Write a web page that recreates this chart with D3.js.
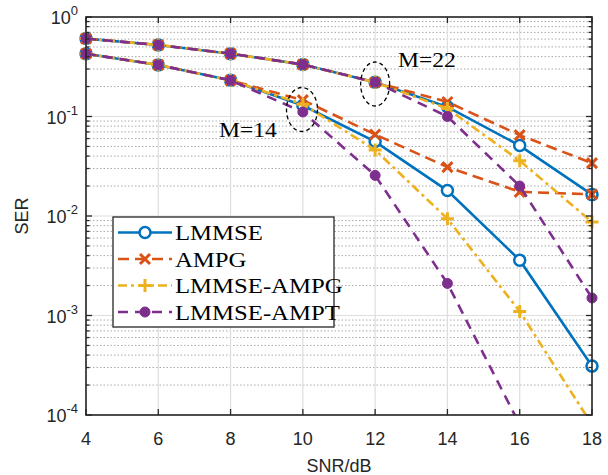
<!DOCTYPE html>
<html><head><meta charset="utf-8">
<script src="https://cdn.jsdelivr.net/npm/d3@7"></script>
<style>html,body{margin:0;padding:0;background:#fff;}svg{display:block;}</style>
</head><body>
<svg id="chart" width="608" height="475"></svg>
<script>
const snr = [4, 6, 8, 10, 12, 14, 16, 18];
const xTicks = [4, 6, 8, 10, 12, 14, 16, 18];
const yTickExps = [0, -1, -2, -3, -4];
const seriesNames = ["LMMSE", "AMPG", "LMMSE-AMPG", "LMMSE-AMPT"];
// M = 22 (upper group)
const lmmse22      = [0.607, 0.523, 0.428, 0.333, 0.221, 0.125, 0.051, 0.0164];
const ampg22       = [0.607, 0.523, 0.428, 0.333, 0.221, 0.140, 0.065, 0.034];
const lmmseAmpg22  = [0.607, 0.523, 0.428, 0.333, 0.221, 0.120, 0.036, 0.0087];
const lmmseAmpt22  = [0.607, 0.523, 0.428, 0.333, 0.221, 0.100, 0.020, 0.0015];
// M = 14 (lower group)
const lmmse14      = [0.427, 0.330, 0.231, 0.129, 0.056, 0.018, 0.0036, 0.00031];
const ampg14       = [0.427, 0.330, 0.231, 0.146, 0.066, 0.031, 0.0175, 0.0165];
const lmmseAmpg14  = [0.427, 0.330, 0.231, 0.133, 0.046, 0.0094, 0.0011, 0.00008];
const lmmseAmpt14  = [0.427, 0.330, 0.231, 0.111, 0.0256, 0.0021, 0.00008, 0.000003];

const styles = {
  "LMMSE":      {color: "#0072BD", dash: null,          marker: "o"},
  "AMPG":       {color: "#D95319", dash: "11,6",        marker: "x"},
  "LMMSE-AMPG": {color: "#EDB120", dash: "9,4,3,4",     marker: "+"},
  "LMMSE-AMPT": {color: "#7E2F8E", dash: "10,7",        marker: "dot"}
};
const groups = [
  {name: "LMMSE", data: [lmmse22, lmmse14]},
  {name: "AMPG", data: [ampg22, ampg14]},
  {name: "LMMSE-AMPG", data: [lmmseAmpg22, lmmseAmpg14]},
  {name: "LMMSE-AMPT", data: [lmmseAmpt22, lmmseAmpt14]}
];

const L = 86, R = 592, T = 17, B = 415;
const svg = d3.select("#chart");
const x = d3.scaleLinear().domain([4, 18]).range([L, R]);
const y = d3.scaleLog().domain([1e-4, 1]).range([B, T]);
const axisCol = "#262626";

// grid
const g = svg.append("g");
const minors = [];
for (let e = -4; e < 0; e++) for (let k = 2; k <= 9; k++) minors.push(k * Math.pow(10, e));
g.selectAll(".mg").data(minors).enter().append("line")
  .attr("x1", L).attr("x2", R).attr("y1", d => y(d)).attr("y2", d => y(d))
  .attr("stroke", "#aaaaaa").attr("stroke-width", 1).attr("stroke-dasharray", "1.5,2");
g.selectAll(".gy").data(yTickExps).enter().append("line")
  .attr("x1", L).attr("x2", R).attr("y1", d => y(Math.pow(10, d))).attr("y2", d => y(Math.pow(10, d)))
  .attr("stroke", "#dedede").attr("stroke-width", 1.2);
g.selectAll(".gx").data(xTicks).enter().append("line")
  .attr("x1", d => x(d)).attr("x2", d => x(d)).attr("y1", T).attr("y2", B)
  .attr("stroke", "#dedede").attr("stroke-width", 1.2);

// clip
svg.append("clipPath").attr("id", "clip").append("rect")
  .attr("x", L).attr("y", T).attr("width", R - L).attr("height", B - T);

const line = d3.line().x(d => x(d[0])).y(d => y(Math.max(d[1], 1e-8)));

function drawMarker(sel, type, color, cx, cy) {
  if (type === "o") {
    sel.append("circle").attr("cx", cx).attr("cy", cy).attr("r", 5.5)
      .attr("fill", "#fff").attr("stroke", color).attr("stroke-width", 2.5);
  } else if (type === "x") {
    const s = 5;
    sel.append("path").attr("d", `M${cx - s},${cy - s}L${cx + s},${cy + s}M${cx - s},${cy + s}L${cx + s},${cy - s}`)
      .attr("stroke", color).attr("stroke-width", 3).attr("fill", "none");
  } else if (type === "+") {
    const s = 6.5;
    sel.append("path").attr("d", `M${cx - s},${cy}L${cx + s},${cy}M${cx},${cy - s}L${cx},${cy + s}`)
      .attr("stroke", color).attr("stroke-width", 3).attr("fill", "none");
  } else {
    sel.append("circle").attr("cx", cx).attr("cy", cy).attr("r", 5)
      .attr("fill", color).attr("stroke", color).attr("stroke-width", 1);
  }
}

const plot = svg.append("g");
groups.forEach(gr => {
  const st = styles[gr.name];
  gr.data.forEach(vals => {
    const pts = snr.map((s, i) => [s, vals[i]]);
    plot.append("path").datum(pts).attr("d", line)
      .attr("clip-path", "url(#clip)")
      .attr("fill", "none").attr("stroke", st.color).attr("stroke-width", 2.6)
      .attr("stroke-dasharray", st.dash);
    const mg = plot.append("g");
    pts.filter(p => p[1] >= 1e-4).forEach(p => drawMarker(mg, st.marker, st.color, x(p[0]), y(p[1])));
  });
});

// box + ticks
const ax = svg.append("g").attr("stroke", axisCol).attr("fill", "none");
ax.append("rect").attr("x", L).attr("y", T).attr("width", R - L).attr("height", B - T).attr("stroke-width", 1.6);
xTicks.forEach(t => {
  ax.append("line").attr("x1", x(t)).attr("x2", x(t)).attr("y1", B).attr("y2", B - 6);
  ax.append("line").attr("x1", x(t)).attr("x2", x(t)).attr("y1", T).attr("y2", T + 6);
});
yTickExps.forEach(e => {
  const yy = y(Math.pow(10, e));
  ax.append("line").attr("x1", L).attr("x2", L + 6).attr("y1", yy).attr("y2", yy);
  ax.append("line").attr("x1", R).attr("x2", R - 6).attr("y1", yy).attr("y2", yy);
});
minors.forEach(m => {
  const yy = y(m);
  ax.append("line").attr("x1", L).attr("x2", L + 3.5).attr("y1", yy).attr("y2", yy);
  ax.append("line").attr("x1", R).attr("x2", R - 3.5).attr("y1", yy).attr("y2", yy);
});
ax.selectAll("line").attr("stroke-width", 1.3);

// tick labels
const font = "Liberation Sans, Arial, sans-serif";
svg.append("g").selectAll("text").data(xTicks).enter().append("text")
  .attr("x", d => x(d)).attr("y", 445).attr("text-anchor", "middle")
  .attr("font-family", font).attr("font-size", 18).attr("fill", axisCol).text(d => d);
yTickExps.forEach(e => {
  const t = svg.append("text").attr("x", 78).attr("y", y(Math.pow(10, e)) + 7)
    .attr("text-anchor", "end").attr("font-family", font).attr("font-size", 18).attr("fill", axisCol);
  t.append("tspan").text("10");
  t.append("tspan").attr("dy", -9).attr("font-size", 13).text(String(e));
});
svg.append("text").attr("x", (L + R) / 2).attr("y", 472).attr("text-anchor", "middle")
  .attr("font-family", font).attr("font-size", 18).attr("fill", axisCol).text("SNR/dB");
svg.append("text").attr("transform", `translate(28,${(T + B) / 2}) rotate(-90)`).attr("text-anchor", "middle")
  .attr("font-family", font).attr("font-size", 18).attr("fill", axisCol).text("SER");

// annotations
const serif = "Liberation Serif, Times New Roman, serif";
const stretch = 1.15;
function serifText(px, py, size, str) {
  svg.append("text").attr("transform", `translate(${px},${py}) scale(${stretch},1)`)
    .attr("font-family", serif).attr("font-size", size).attr("fill", "#000").text(str);
}
svg.append("ellipse").attr("cx", x(12)).attr("cy", 84).attr("rx", 14.5).attr("ry", 22)
  .attr("fill", "none").attr("stroke", "#000").attr("stroke-width", 1.3).attr("stroke-dasharray", "4,3");
svg.append("ellipse").attr("cx", 302).attr("cy", 109.5).attr("rx", 15.5).attr("ry", 22)
  .attr("fill", "none").attr("stroke", "#000").attr("stroke-width", 1.3).attr("stroke-dasharray", "4,3");
serifText(398, 66.5, 20.5, "M=22");
serifText(219, 136.5, 20.5, "M=14");

// legend
const lg = svg.append("g");
lg.append("rect").attr("x", 113).attr("y", 217).attr("width", 221).attr("height", 110)
  .attr("fill", "#fff").attr("stroke", axisCol).attr("stroke-width", 1.3);
seriesNames.forEach((n, i) => {
  const st = styles[n];
  const yy = 232.5 + i * 26.5;
  lg.append("line").attr("x1", 118).attr("x2", 172).attr("y1", yy).attr("y2", yy)
    .attr("stroke", st.color).attr("stroke-width", 2.6).attr("stroke-dasharray", st.dash);
  drawMarker(lg, st.marker, st.color, 145, yy);
  lg.append("text").attr("transform", `translate(175,${yy + 7.5}) scale(${stretch},1)`)
    .attr("font-family", serif).attr("font-size", 21.5).attr("fill", "#000").text(n);
});
</script>
</body></html>
